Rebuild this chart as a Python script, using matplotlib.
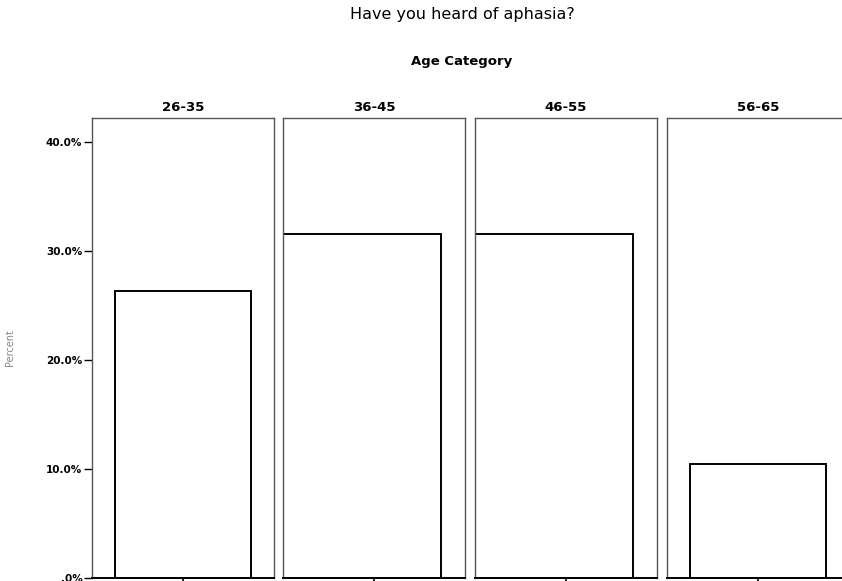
import numpy as np
import matplotlib
matplotlib.use("Agg")
import matplotlib.pyplot as plt

# datos
categorias = ["26-35", "36-45", "46-55", "56-65"]
porcentajes = [26.3, 31.6, 31.6, 10.5]
yticks = [0, 10, 20, 30, 40]
ytick_labels = [".0%", "10.0%", "20.0%", "30.0%", "40.0%"]

fig = plt.figure(figsize=(8.42, 5.81), dpi=100)
W, H = 842.0, 581.0

izq = [92, 283, 475, 667]
ancho = 182
abajo = (H - 578) / H
alto = 460 / H

for k, cat in enumerate(categorias):
    ax = fig.add_axes([izq[k] / W, abajo, ancho / W, alto])
    if k in (1, 2):
        # en estos paneles la barra arranca en el borde izquierdo
        ax.bar(-0.5, porcentajes[k], width=0.87, align="edge",
               facecolor="white", edgecolor="black", linewidth=1.4)
    else:
        ax.bar(0.0, porcentajes[k], width=0.75,
               facecolor="white", edgecolor="black", linewidth=1.4)
    ax.set_xlim(-0.5, 0.5)
    ax.set_ylim(0, 42.2)
    for s in ["left", "right", "top"]:
        ax.spines[s].set_color("#555555")
        ax.spines[s].set_linewidth(1.0)
    ax.spines["bottom"].set_color("black")
    ax.spines["bottom"].set_linewidth(1.4)
    ax.set_xticks([0])
    ax.set_xticklabels([""])
    ax.tick_params(axis="x", direction="out", length=6, width=1.2, color="black")
    if k == 0:
        ax.set_yticks(yticks)
        ax.set_yticklabels(ytick_labels, fontsize=7.5, fontweight="bold")
        ax.tick_params(axis="y", direction="out", length=6, width=1.0, pad=1)
        ax.set_ylabel("Percent", fontsize=7, color="#888888", labelpad=22)
    else:
        ax.set_yticks([])
    ax.set_title(cat, fontsize=9.5, fontweight="bold", pad=5)

fig.text(462 / W, 1 - 15 / H, "Have you heard of aphasia?", ha="center",
         va="center", fontsize=11.5)
fig.text(462 / W, 1 - 62 / H, "Age Category", ha="center", va="center",
         fontsize=9.5, fontweight="bold")

plt.savefig("out.png", dpi=100)
